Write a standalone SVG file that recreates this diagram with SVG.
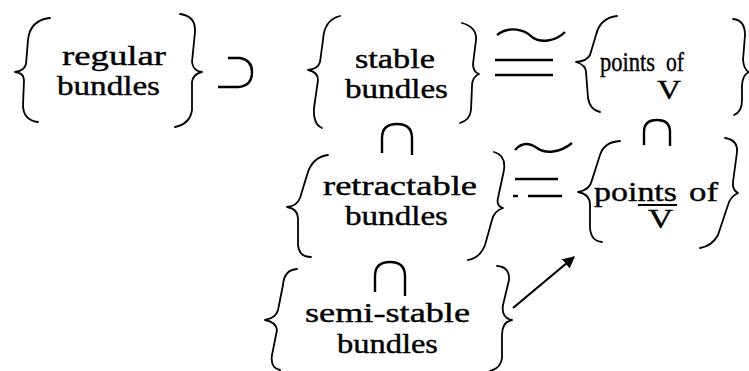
<svg xmlns="http://www.w3.org/2000/svg" width="749" height="371" viewBox="0 0 749 371">
<style>
.br{fill:none;stroke:#000;stroke-width:1.8;stroke-linecap:round;stroke-linejoin:round}
.sym{fill:none;stroke:#000;stroke-width:2.4;stroke-linecap:butt;stroke-linejoin:round}
text{font-family:'Liberation Serif','Times New Roman',serif;font-size:27px;fill:#000;stroke:#000;stroke-width:0.4}
</style>
<defs>
<marker id="ah" viewBox="0 0 10 10" refX="9" refY="5" markerWidth="12" markerHeight="12" markerUnits="userSpaceOnUse" orient="auto">
<path d="M0,0 L10,5 L0,10 Z" fill="#000"/>
</marker>
</defs>
<rect width="749" height="371" fill="#fff"/>

<g id="regular-bundles">
<path class="br" d="M50 18 Q30 20 28 40 L26 64 Q24 71 15 72 Q24 73 24 80 L23 105 Q23 120 38 122"/>
<path class="br" d="M180 14 Q196 16 195 32 L192 62 Q193 71 202 72 Q193 74 192 82 L192 110 Q190 124 175 127"/>
<text x="62" y="65" textLength="104" lengthAdjust="spacingAndGlyphs">regular</text>
<text x="57" y="95" textLength="103" lengthAdjust="spacingAndGlyphs">bundles</text>
</g>

<g id="stable-bundles">
<path class="br" d="M340 16 Q324 20 323 40 L320 62 Q318 69 308 70 Q318 72 318 80 L314 108 Q313 124 322 128"/>
<path class="br" d="M462 23 Q477 27 476 40 L473 64 Q473 72 479 74 Q472 77 472 86 L471 110 Q470 120 460 123"/>
<text x="355" y="68" textLength="80" lengthAdjust="spacingAndGlyphs">stable</text>
<text x="345" y="98" textLength="103" lengthAdjust="spacingAndGlyphs">bundles</text>
</g>

<g id="points-of-V">
<path class="br" d="M617 16 Q600 18 596 35 L590 55 Q587 61 576 62 Q586 65 586 72 L588 98 Q590 110 600 112"/>
<path class="br" d="M733 19 Q745 20 745 35 L743 60 Q744 70 749 72 Q743 74 742 85 L742 100 Q742 112 734 115"/>
<text x="600" y="71" textLength="55" lengthAdjust="spacingAndGlyphs">points</text>
<text x="666" y="71" textLength="18" lengthAdjust="spacingAndGlyphs">of</text>
<text x="657" y="99" textLength="24" lengthAdjust="spacingAndGlyphs">V</text>
</g>

<g id="retractable-bundles">
<path class="br" d="M328 155 Q312 157 307 175 L300 198 Q297 206 287 207 Q298 209 298 218 L298 245 Q299 257 311 257"/>
<path class="br" d="M494 152 Q506 155 504 170 L498 198 Q496 206 503 208 Q494 211 492 220 L485 245 Q480 258 468 260"/>
<text x="323" y="195" textLength="154" lengthAdjust="spacingAndGlyphs">retractable</text>
<text x="345" y="225" textLength="103" lengthAdjust="spacingAndGlyphs">bundles</text>
</g>

<g id="points-of-Vbar">
<path class="br" d="M620 141 Q604 142 600 155 L592 180 Q590 190 578 192 Q590 194 590 205 L590 228 Q591 241 602 242"/>
<path class="br" d="M725 138 Q738 140 737 152 L733 182 Q732 190 738 193 Q730 197 728 205 L718 235 Q712 246 700 248"/>
<text x="594" y="201" textLength="83" lengthAdjust="spacingAndGlyphs">points</text>
<text x="689" y="201" textLength="29" lengthAdjust="spacingAndGlyphs">of</text>
<line x1="638" y1="205" x2="677" y2="205" stroke="#000" stroke-width="2"/>
<text x="648" y="228" textLength="25" lengthAdjust="spacingAndGlyphs">V</text>
</g>

<g id="semi-stable-bundles">
<path class="br" d="M297 269 Q284 270 283 285 L278 310 Q276 318 265 320 Q276 322 277 330 L272 355 Q270 368 280 370"/>
<path class="br" d="M497 266 Q510 267 509 280 L503 305 Q501 318 512 320 Q502 322 502 335 L502 358 Q501 368 490 371"/>
<text x="305" y="322" textLength="165" lengthAdjust="spacingAndGlyphs">semi-stable</text>
<text x="337" y="353" textLength="101" lengthAdjust="spacingAndGlyphs">bundles</text>
</g>

<g id="connectors">
<path class="sym" d="M228 58 L240 58 Q252 60 252 72 Q252 86 238 87 L218 87"/>
<path class="sym" d="M497 35 C510 25 525 30 532 37 C540 43 555 42 565 32"/>
<path class="sym" d="M495 60 L553 60 M495 75 L553 75"/>
<path class="sym" d="M382 153 L382 138 Q382 124 397 124 Q412 124 412 138 L412 155"/>
<path class="sym" d="M515 150 C522 142 530 143 537 148 C545 154 560 153 572 143"/>
<path class="sym" d="M515 179 L558 179 M513 196 L518 196 M528 196 L562 196"/>
<path class="sym" d="M644 145 L644 132 Q644 120 657 120 Q670 120 670 132 L670 146"/>
<path class="sym" d="M375 292 L375 276 Q375 262 390 262 Q405 262 405 276 L405 296"/>
<line x1="513" y1="308" x2="574" y2="257" stroke="#000" stroke-width="2.2" marker-end="url(#ah)"/>
</g>
</svg>
